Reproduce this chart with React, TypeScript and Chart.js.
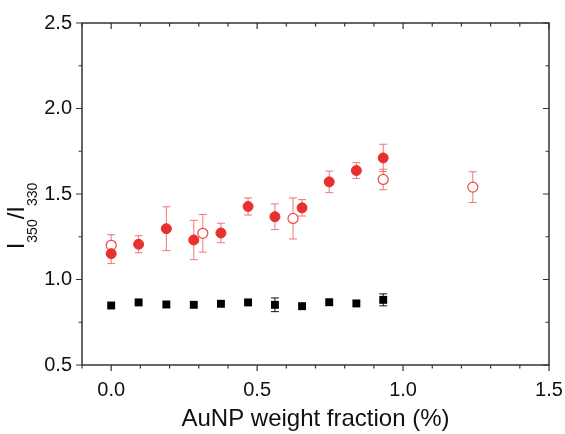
import React, { useEffect, useRef } from "react";
import { Chart, registerables } from "chart.js";

Chart.register(...registerables);

// ---- data ----
const filledX = [0, 0.094, 0.189, 0.283, 0.376, 0.469, 0.561, 0.654, 0.747, 0.84, 0.932];
const filledY = [1.151, 1.206, 1.297, 1.231, 1.272, 1.427, 1.367, 1.419, 1.571, 1.637, 1.711];
const filledErr = [0.058, 0.05, 0.128, 0.115, 0.057, 0.05, 0.075, 0.048, 0.063, 0.046, 0.08];

const hollowX = [0, 0.314, 0.623, 0.932, 1.239];
const hollowY = [1.2, 1.27, 1.357, 1.585, 1.54];
const hollowErr = [0.062, 0.11, 0.12, 0.06, 0.09];

const squareX = [0, 0.094, 0.189, 0.283, 0.376, 0.469, 0.561, 0.654, 0.747, 0.84, 0.932];
const squareY = [0.848, 0.866, 0.854, 0.852, 0.858, 0.866, 0.852, 0.844, 0.867, 0.86, 0.881];
const squareErr = [0, 0, 0, 0, 0, 0, 0.04, 0, 0, 0, 0.035];

const xMajorTicks = [0, 0.5, 1.0, 1.5];
const yMajorTicks = [0.5, 1.0, 1.5, 2.0, 2.5];

const RED = "#e8302e";
const RED_ERR = "#f27575";
const AXIS = "#333333";
const FONT = "'Liberation Sans', Arial, sans-serif";

const toPts = (xs: number[], ys: number[]) => xs.map((x, i) => ({ x, y: ys[i] }));

const errorBarPlugin = {
  id: "errorBars",
  beforeDatasetsDraw(chart: any) {
    const { ctx, scales } = chart;
    const xs = scales.x;
    const ys = scales.y;
    chart.data.datasets.forEach((ds: any) => {
      const errs: number[] = ds.errors || [];
      ctx.save();
      ctx.strokeStyle = ds.errorColor;
      ctx.lineWidth = 1;
      ds.data.forEach((p: any, i: number) => {
        const e = errs[i];
        if (!e) return;
        const px = xs.getPixelForValue(p.x);
        const top = ys.getPixelForValue(p.y + e);
        const bot = ys.getPixelForValue(p.y - e);
        const cap = 4;
        ctx.beginPath();
        ctx.moveTo(px, top);
        ctx.lineTo(px, bot);
        ctx.moveTo(px - cap, top);
        ctx.lineTo(px + cap, top);
        ctx.moveTo(px - cap, bot);
        ctx.lineTo(px + cap, bot);
        ctx.stroke();
      });
      ctx.restore();
    });
  },
};

const framePlugin = {
  id: "frame",
  afterDraw(chart: any) {
    const { ctx, chartArea: a, scales } = chart;
    const xs = scales.x;
    const ys = scales.y;
    ctx.save();
    ctx.strokeStyle = AXIS;
    ctx.lineWidth = 1.5;
    ctx.strokeRect(a.left, a.top, a.right - a.left, a.bottom - a.top);
    ctx.lineWidth = 1.2;
    ctx.beginPath();
    for (let k = -1; k <= 15; k++) {
      const v = k / 10;
      const major = k % 5 === 0;
      const len = major ? 6 : 3.5;
      const px = xs.getPixelForValue(v);
      ctx.moveTo(px, a.bottom);
      ctx.lineTo(px, a.bottom + len);
      ctx.moveTo(px, a.top);
      ctx.lineTo(px, a.top + len);
    }
    for (let k = 2; k <= 10; k++) {
      const v = k / 4;
      const major = k % 2 === 0;
      const len = major ? 6 : 3.5;
      const py = ys.getPixelForValue(v);
      ctx.moveTo(a.left, py);
      ctx.lineTo(a.left - len, py);
      ctx.moveTo(a.right, py);
      ctx.lineTo(a.right - len, py);
    }
    ctx.stroke();

    // y title with subscripts
    const mainFont = `24px ${FONT}`;
    const subFont = `14px ${FONT}`;
    const parts: [string, boolean][] = [
      ["I", false],
      ["350", true],
      ["/I", false],
      ["330", true],
    ];
    let total = 0;
    const widths = parts.map(([t, sub]) => {
      ctx.font = sub ? subFont : mainFont;
      const w = ctx.measureText(t).width;
      total += w;
      return w;
    });
    const cy = (a.top + a.bottom) / 2 + 22;
    ctx.translate(24, cy);
    ctx.rotate(-Math.PI / 2);
    ctx.fillStyle = "#111";
    ctx.textBaseline = "alphabetic";
    let xPos = -total / 2;
    parts.forEach(([t, sub], i) => {
      ctx.font = sub ? subFont : mainFont;
      ctx.fillText(t, xPos, sub ? 13 : 0);
      xPos += widths[i];
    });
    ctx.restore();
  },
};

export default function App() {
  const ref = useRef<HTMLCanvasElement | null>(null);
  useEffect(() => {
    document.body.style.margin = "0";
    const canvas = ref.current!;
    const chart = new Chart(canvas, {
      type: "scatter",
      data: {
        datasets: [
          {
            label: "filled",
            data: toPts(filledX, filledY),
            errors: filledErr,
            errorColor: RED_ERR,
            pointStyle: "circle",
            pointRadius: 5,
            pointBackgroundColor: RED,
            pointBorderColor: RED,
            pointBorderWidth: 1,
          } as any,
          {
            label: "hollow",
            data: toPts(hollowX, hollowY),
            errors: hollowErr,
            errorColor: RED_ERR,
            pointStyle: "circle",
            pointRadius: 5,
            pointBackgroundColor: "#ffffff",
            pointBorderColor: "#ea4a48",
            pointBorderWidth: 1.2,
          } as any,
          {
            label: "square",
            data: toPts(squareX, squareY),
            errors: squareErr,
            errorColor: "#111111",
            pointStyle: "rect",
            pointRadius: 5.6,
            pointBackgroundColor: "#000000",
            pointBorderColor: "#000000",
            pointBorderWidth: 0,
          } as any,
        ],
      },
      options: {
        animation: false,
        responsive: false,
        events: [],
        layout: { padding: { left: 0, right: 16, top: 23, bottom: 0 } },
        plugins: { legend: { display: false }, tooltip: { enabled: false } },
        scales: {
          x: {
            type: "linear",
            min: -0.1,
            max: 1.5,
            grid: { display: false, drawTicks: false },
            border: { display: false },
            afterBuildTicks: (scale: any) => {
              scale.ticks = xMajorTicks.map((v) => ({ value: v }));
            },
            afterFit: (scale: any) => {
              scale.height = 69;
              scale.paddingLeft = 0;
              scale.paddingRight = 0;
            },
            ticks: {
              autoSkip: false,
              maxRotation: 0,
              padding: 13,
              color: "#111",
              font: { family: FONT, size: 20 },
              callback: (v: any) => Number(v).toFixed(1),
            },
            title: {
              display: true,
              text: "AuNP weight fraction (%)",
              color: "#111",
              font: { family: FONT, size: 24 },
              padding: { top: 0, bottom: 0 },
            },
          },
          y: {
            type: "linear",
            min: 0.5,
            max: 2.5,
            grid: { display: false, drawTicks: false },
            border: { display: false },
            afterBuildTicks: (scale: any) => {
              scale.ticks = yMajorTicks.map((v) => ({ value: v }));
            },
            afterFit: (scale: any) => {
              scale.width = 82;
              scale.paddingTop = 0;
              scale.paddingBottom = 0;
            },
            ticks: {
              autoSkip: false,
              padding: 10,
              color: "#111",
              font: { family: FONT, size: 20 },
              callback: (v: any) => Number(v).toFixed(1),
            },
          },
        },
      },
      plugins: [errorBarPlugin, framePlugin],
    } as any);
    return () => chart.destroy();
  }, []);
  return (
    <div style={{ width: 565, height: 434 }}>
      <canvas ref={ref} width={565} height={434} style={{ display: "block" }} />
    </div>
  );
}
